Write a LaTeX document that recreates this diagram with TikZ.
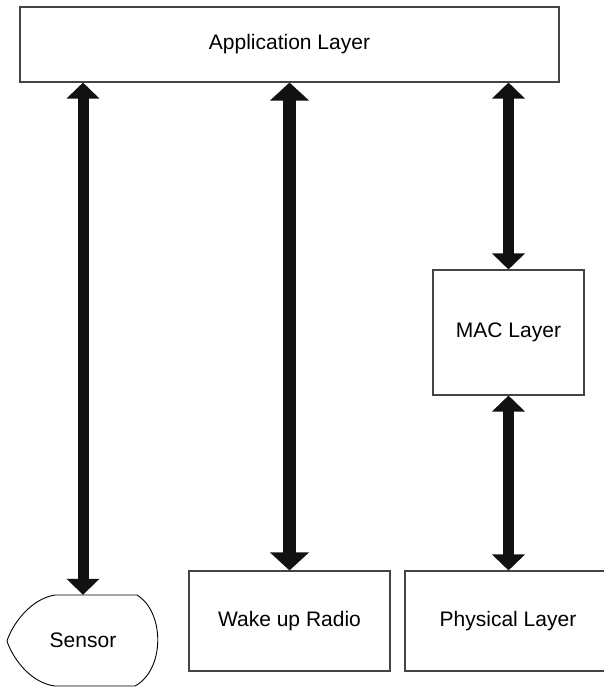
\documentclass[tikz,border=0pt]{standalone}
\usepackage{fontspec}
\setmainfont{Liberation Sans}
\usetikzlibrary{arrows.meta}

\definecolor{boxline}{HTML}{444444}
\definecolor{arrowfill}{HTML}{111111}

\tikzset{
  layer/.style={draw=boxline, line width=1.1pt, fill=white, rectangle,
    inner sep=0pt, font=\fontsize{21}{25}\selectfont},
  link/.style={draw=arrowfill, line width=11pt,
    {Triangle[width=32pt,length=16pt]}-{Triangle[width=32pt,length=16pt]}},
  widelink/.style={draw=arrowfill, line width=13pt,
    {Triangle[width=38pt,length=18pt]}-{Triangle[width=38pt,length=18pt]}},
}

\begin{document}
\begin{tikzpicture}[x=1pt,y=-1pt]
  \useasboundingbox (0,0) rectangle (604,687);
  \clip (0,0) rectangle (604,687);

  % layer boxes
  \node[layer, minimum width=539pt, minimum height=75pt] (app) at (289.5,44.5) {Application Layer};
  \node[layer, minimum width=151pt, minimum height=125pt] (mac) at (508.5,332.5) {MAC Layer};
  \node[layer, minimum width=201pt, minimum height=100pt] (wake) at (289.5,621) {Wake up Radio};
  \node[layer, minimum width=206pt, minimum height=100pt] (phys) at (508,621) {Physical Layer};

  % sensor (display-style outline)
  \draw[draw=black, line width=0.9pt, fill=white]
    (137,595) -- (55,595)
    .. controls (30,599) and (12,625) .. (7,641)
    .. controls (12,657) and (30,683) .. (55,686)
    -- (135,686)
    .. controls (165,670) and (165,612) .. (137,595) -- cycle;
  \node[font=\fontsize{21}{25}\selectfont, minimum width=150pt, minimum height=91pt,
    inner sep=0pt] (sensor) at (83,640.5) {Sensor};

  % connectors
  \draw[link] (app.south -| sensor.north) -- (sensor.north);
  \draw[widelink] (app.south -| wake.north) -- (wake.north);
  \draw[link] (app.south -| mac.north) -- (mac.north);
  \draw[link] (mac.south) -- (phys.north -| mac.south);
\end{tikzpicture}
\end{document}
